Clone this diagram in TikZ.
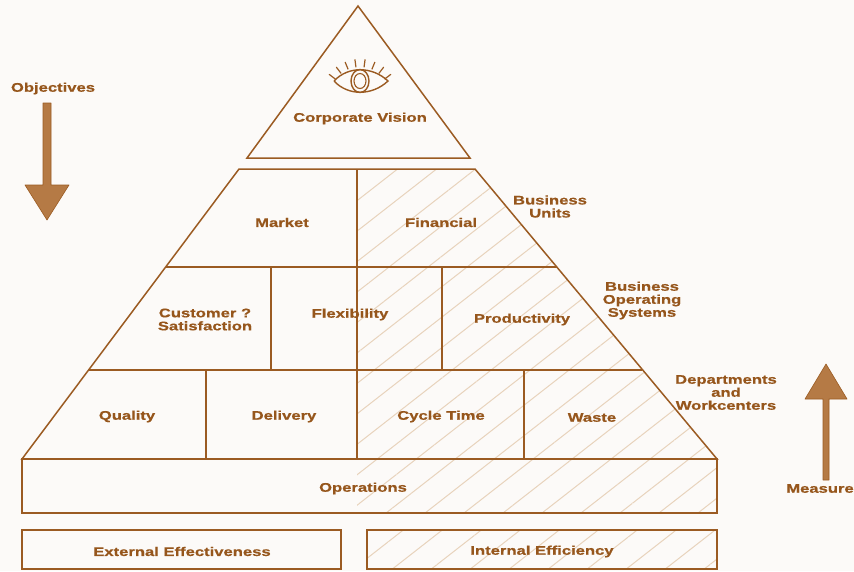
\documentclass[tikz,border=0pt]{standalone}
\usepackage{fontspec}
\setmainfont{Liberation Sans}[FakeStretch=1.33,BoldFeatures={FakeBold=0.6}]
\usetikzlibrary{patterns.meta}
\definecolor{brn}{HTML}{9B5B22}
\definecolor{txt}{HTML}{96561C}
\definecolor{hatch}{HTML}{E8D3BC}
\definecolor{arrfill}{HTML}{B57A45}
\definecolor{paper}{HTML}{FCFAF8}
\tikzset{
  lbl/.style={text=txt,font=\bfseries\fontsize{12.5}{13}\selectfont,align=center,inner sep=0pt,yshift=-1.5pt},
  edge/.style={draw=brn,line width=1.5pt},
  hatched/.style={pattern={Lines[angle=38,distance=24pt,line width=1pt]},pattern color=hatch},
  blockarrow/.style={fill=arrfill,draw=brn,line width=0.6pt,line join=round}
}

\begin{document}
\begin{tikzpicture}[x=1pt,y=-1pt]
\fill[paper] (0,0) rectangle (854,571);
\useasboundingbox (0,0) rectangle (854,571);

\fill[hatched] (357,169) -- (475,169) -- (717,459) -- (717,513) -- (357,513) -- cycle;
\fill[hatched] (367,530) rectangle (717,569);

\draw[edge] (358,6) -- (470,158) -- (247,158) -- cycle;
\draw[edge] (239,169) -- (475,169) -- (717,459) -- (22,459) -- cycle;
\draw[edge] (166,267) -- (557,267);
\draw[edge] (89,370) -- (642,370);
\draw[edge] (22,459) rectangle (717,513);
\draw[edge] (357,169) -- (357,459);
\draw[edge] (271,267) -- (271,370);
\draw[edge] (442,267) -- (442,370);
\draw[edge] (206,370) -- (206,459);
\draw[edge] (524,370) -- (524,459);
\draw[edge] (22,530) rectangle (341,569);
\draw[edge] (367,530) rectangle (717,569);

\draw[brn,line width=1.4pt] (334,81) .. controls (348,66) and (372,66) .. (388,81) .. controls (372,96) and (348,96) .. (334,81);
\draw[brn,line width=1.4pt] (360,81) ellipse (9pt and 11.5pt);
\draw[brn,line width=1.1pt] (360,81) ellipse (6pt and 7.5pt);
\foreach \a in {-142.5,-127.5,-112.5,-97.5,-82.5,-67.5,-52.5,-37.5}
  \draw[brn,line width=1.2pt] (360,98) ++(\a:31) -- ++(\a:8);

\draw[blockarrow] (43,103) -- (51,103) -- (51,185) -- (69,185) -- (47,220) -- (25,185) -- (43,185) -- cycle;
\draw[blockarrow] (823,480) -- (829,480) -- (829,399) -- (847,399) -- (826,364) -- (805,399) -- (823,399) -- cycle;

\node[lbl] (vision) at (360,117) {Corporate Vision};
\node[lbl] (market) at (282,221) {Market};
\node[lbl] (financial) at (441,221) {Financial};
\node[lbl] (customer) at (205,318) {Customer ?\\Satisfaction};
\node[lbl] (flex) at (350,313) {Flexibility};
\node[lbl] (prod) at (522,318) {Productivity};
\node[lbl] (quality) at (127,415) {Quality};
\node[lbl] (delivery) at (284,415) {Delivery};
\node[lbl] (cycle) at (441,415) {Cycle Time};
\node[lbl] (waste) at (592,416) {Waste};
\node[lbl] (ops) at (363,487) {Operations};
\node[lbl] (ext) at (182,550) {External Effectiveness};
\node[lbl] (int) at (542,550) {Internal Efficiency};
\node[lbl] (bu) at (550,205) {Business\\Units};
\node[lbl] (bos) at (642,299) {Business\\Operating\\Systems};
\node[lbl] (dept) at (726,391) {Departments\\and\\Workcenters};
\node[lbl] (obj) at (53,87) {Objectives};
\node[lbl] (meas) at (820,487) {Measure};
\end{tikzpicture}
\end{document}
